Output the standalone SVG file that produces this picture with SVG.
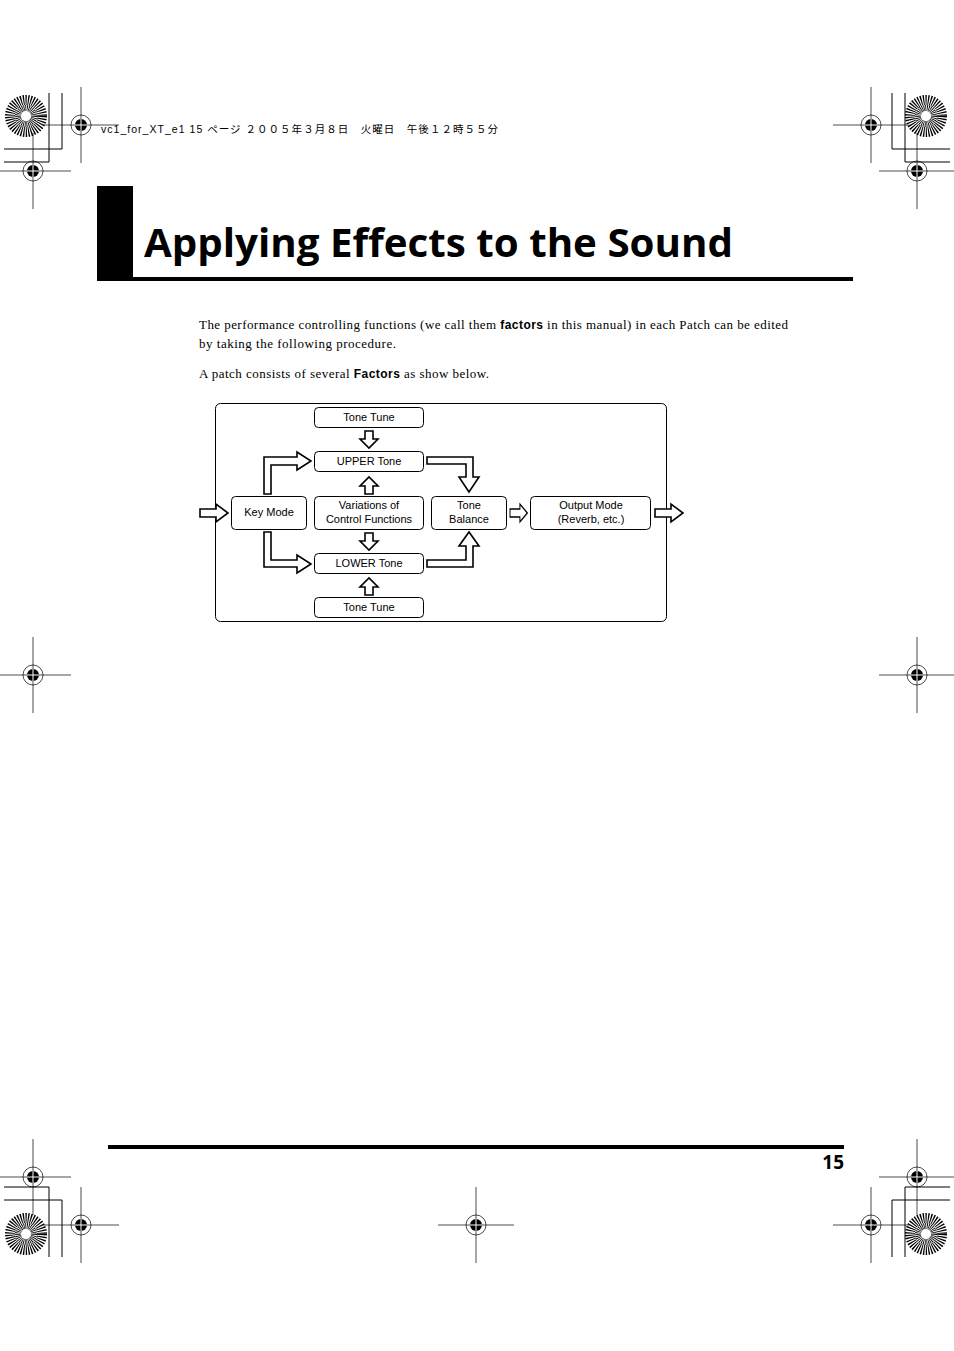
<svg xmlns="http://www.w3.org/2000/svg" width="954" height="1351" viewBox="0 0 954 1351">
<style>
.b{fill:#fff;stroke:#000;stroke-width:1}
.a{fill:#fff;stroke:#000;stroke-width:1.6;stroke-linejoin:miter}
.t{font-family:"Liberation Sans",Arial,sans-serif;font-size:11px;text-anchor:middle}
.p{font-family:"Liberation Serif","Times New Roman",serif;font-size:13px}
.hl{stroke:#000;stroke-width:1;fill:none}
.rg{stroke:#000;stroke-width:0.7;fill:none}
</style>
<defs>
<g id="reg"><line class="rg" x1="-38" y1="0" x2="38" y2="0"/><line class="rg" x1="0" y1="-38" x2="0" y2="38"/><circle class="rg" cx="0" cy="0" r="10"/><circle cx="0" cy="0" r="6" fill="#000"/><line x1="-6" y1="0" x2="6" y2="0" stroke="#fff" stroke-width="1"/><line x1="0" y1="-6" x2="0" y2="6" stroke="#fff" stroke-width="1"/></g>
<g id="star"><circle r="16" fill="none" stroke="#000" stroke-width="10" stroke-dasharray="1.2 1.2"/><circle r="8" fill="none" stroke="#000" stroke-width="6" stroke-dasharray="0.8 0.8"/><circle r="2" fill="#fff"/></g>
<path id="dn" d="M-4,0 H4 V8 H9 L0,17 L-9,8 H-4 Z"/>
<path id="rt" d="M0,-4 V4 H16 V9 L28,0 L16,-9 V-4 Z"/>
</defs>
<rect width="954" height="1351" fill="#fff"/>
<g id="marks">
<use href="#reg" x="81" y="125"/><use href="#reg" x="33" y="171"/><use href="#reg" x="871" y="125"/><use href="#reg" x="917" y="171"/>
<use href="#reg" x="33" y="675"/><use href="#reg" x="917" y="675"/><use href="#reg" x="33" y="1177"/><use href="#reg" x="917" y="1177"/>
<use href="#reg" x="81" y="1225"/><use href="#reg" x="476" y="1225"/><use href="#reg" x="871" y="1225"/>
<use href="#star" x="26" y="116"/><use href="#star" x="926" y="116"/><use href="#star" x="26" y="1234"/><use href="#star" x="926" y="1234"/>
<path class="hl" d="M62,93 V149 H4 M49,93 V162 H4 M892,93 V149 H950 M905,93 V162 H950 M62,1257 V1200 H4 M49,1257 V1187 H4 M892,1257 V1200 H950 M905,1257 V1187 H950"/>
<text x="101" y="133" font-family="'Liberation Sans','Noto Sans CJK JP',sans-serif" font-size="10.5" textLength="397" lengthAdjust="spacing">vc1_for_XT_e1  15 ページ  ２００５年３月８日　火曜日　午後１２時５５分</text>
</g>
<rect x="97" y="186" width="36" height="93" fill="#000"/>
<rect x="97" y="277" width="756" height="4" fill="#000"/>
<text x="144" y="257" font-family="'Open Sans','DejaVu Sans',sans-serif" font-weight="bold" font-size="39" textLength="589" lengthAdjust="spacingAndGlyphs">Applying Effects to the Sound</text>
<text class="p" x="199" y="329" textLength="589" lengthAdjust="spacing">The performance controlling functions (we call them <tspan font-family="'Liberation Sans',sans-serif" font-weight="bold" font-size="12">factors</tspan> in this manual) in each Patch can be edited</text>
<text class="p" x="199" y="348" textLength="197" lengthAdjust="spacing">by taking the following procedure.</text>
<text class="p" x="199" y="378" textLength="290" lengthAdjust="spacing">A patch consists of several <tspan font-family="'Liberation Sans',sans-serif" font-weight="bold" font-size="12">Factors</tspan> as show below.</text>
<rect class="b" x="215.5" y="403.5" width="451" height="218" rx="5"/>
<g id="n1"><rect class="b" x="314.5" y="407.5" width="109" height="20" rx="4"/><text class="t" x="369" y="421">Tone Tune</text></g>
<g id="n2"><rect class="b" x="314.5" y="451.5" width="109" height="20" rx="4"/><text class="t" x="369" y="465">UPPER Tone</text></g>
<g id="n3"><rect class="b" x="231.5" y="496.5" width="75" height="33" rx="4"/><text class="t" x="269" y="516">Key Mode</text></g>
<g id="n4"><rect class="b" x="314.5" y="496.5" width="109" height="33" rx="4"/><text class="t" x="369" y="509">Variations of</text><text class="t" x="369" y="523">Control Functions</text></g>
<g id="n5"><rect class="b" x="431.5" y="496.5" width="75" height="33" rx="4"/><text class="t" x="469" y="509">Tone</text><text class="t" x="469" y="523">Balance</text></g>
<g id="n6"><rect class="b" x="530.5" y="496.5" width="120" height="33" rx="4"/><text class="t" x="591" y="509">Output Mode</text><text class="t" x="591" y="523">(Reverb, etc.)</text></g>
<g id="n7"><rect class="b" x="314.5" y="553.5" width="109" height="20" rx="4"/><text class="t" x="369" y="567">LOWER Tone</text></g>
<g id="n8"><rect class="b" x="314.5" y="597.5" width="109" height="20" rx="4"/><text class="t" x="369" y="611">Tone Tune</text></g>
<g id="connectors">
<use href="#dn" class="a" transform="translate(369,431)"/>
<use href="#dn" class="a" transform="translate(369,494) rotate(180)"/>
<use href="#dn" class="a" transform="translate(369,533)"/>
<use href="#dn" class="a" transform="translate(369,595) rotate(180)"/>
<use href="#rt" class="a" transform="translate(200,513)"/>
<use href="#rt" class="a" transform="translate(510,513) scale(0.62,1)"/>
<use href="#rt" class="a" transform="translate(655,513)"/>
<path class="a" d="M264,494 V457 H297 V452 L311,461 L297,470 V465 H271 V494 Z"/>
<path class="a" d="M427,457 H473 V477 H479 L469,492 L459,477 H466 V464 H427 Z"/>
<path class="a" d="M264,532 H271 V560 H297 V555 L311,564 L297,573 V567 H264 Z"/>
<path class="a" d="M427,567 H473 V546 H479 L469,532 L459,546 H466 V560 H427 Z"/>
</g>
<rect x="108" y="1145" width="736" height="4" fill="#000"/>
<text x="844" y="1169" text-anchor="end" font-family="'Open Sans','DejaVu Sans',sans-serif" font-weight="bold" font-size="19">15</text>
</svg>
